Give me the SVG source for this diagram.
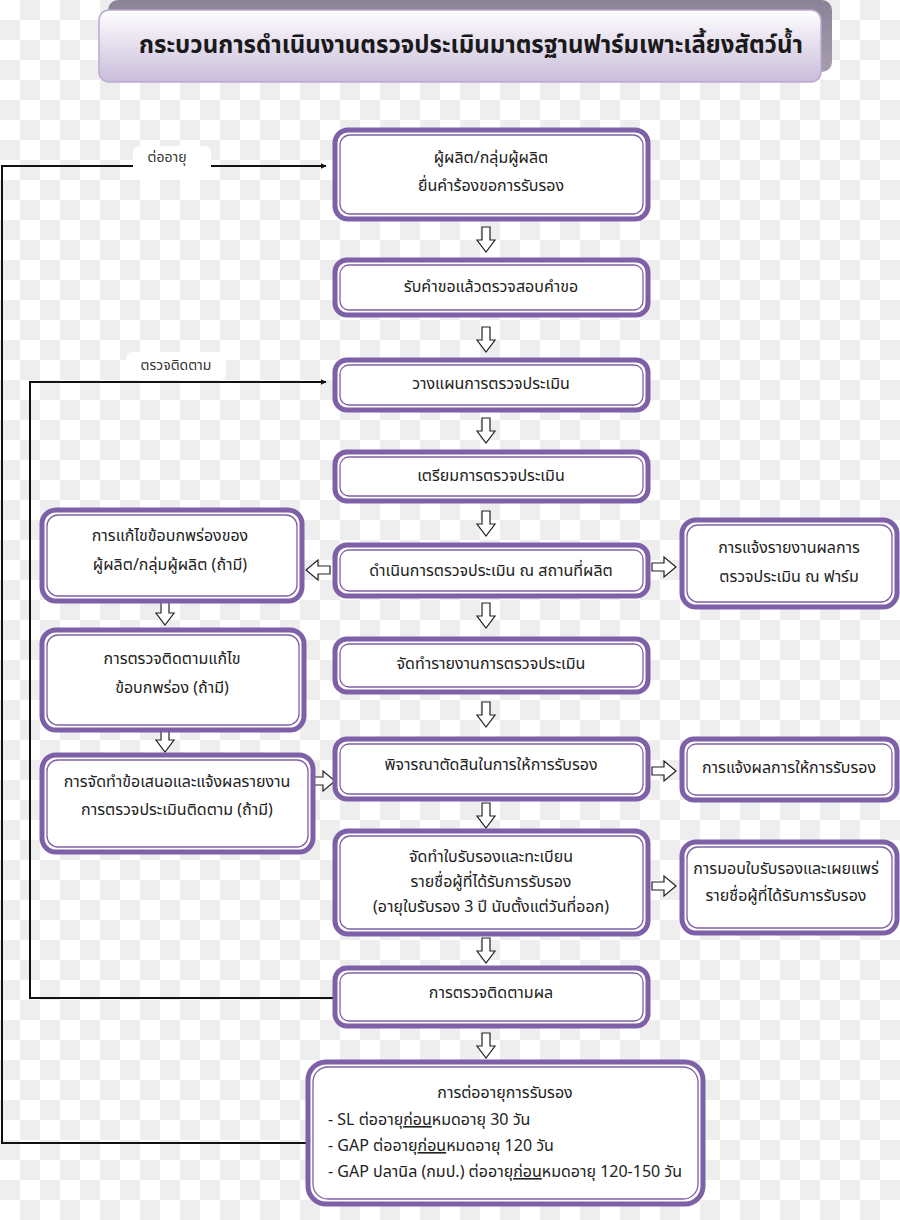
<svg xmlns="http://www.w3.org/2000/svg" width="900" height="1220" viewBox="0 0 900 1220">
<defs>
<pattern id="chk" width="40" height="40" patternUnits="userSpaceOnUse">
<rect width="40" height="40" fill="#ffffff"/>
<rect x="20" y="0" width="20" height="20" fill="#eeeeee"/>
<rect x="0" y="20" width="20" height="20" fill="#eeeeee"/>
</pattern>
<linearGradient id="tg" x1="0" y1="0" x2="0" y2="1">
<stop offset="0" stop-color="#ffffff"/>
<stop offset="1" stop-color="#c9bcda"/>
</linearGradient>
<linearGradient id="sg" x1="0" y1="0" x2="0" y2="1">
<stop offset="0" stop-color="#8a8296"/>
<stop offset="1" stop-color="#a59dae"/>
</linearGradient>
<marker id="ah" viewBox="0 0 10 10" refX="9" refY="5" markerWidth="6" markerHeight="6" orient="auto" markerUnits="userSpaceOnUse">
<path d="M0,0 L10,5 L0,10 z" fill="#111"/>
</marker>
<path id="dn" d="M-4,0 h8 v13 h5 l-9,12 l-9,-12 h5 z"/>
<path id="rt" d="M0,-4 h12 v-6 l12,10 l-12,10 v-6 h-12 z"/>
<path id="lt" d="M0,-4 h-12 v-6 l-12,10 l12,10 v-6 h12 z"/>
</defs>
<style>
.bo{fill:#ffffff;stroke:#7d60a8;stroke-width:5}
.bi{fill:none;stroke:#7d60a8;stroke-width:1.3}
.t{font-family:"Noto Sans Thai","Noto Sans","DejaVu Sans",sans-serif;font-size:16px;fill:#222;text-anchor:middle}
.tl{text-anchor:start}
.ha{fill:#ffffff;stroke:#222;stroke-width:1.2}
.cn{fill:none;stroke:#111;stroke-width:2}
.lb{font-family:"Noto Sans Thai","Noto Sans","DejaVu Sans",sans-serif;font-size:14px;fill:#333;text-anchor:middle}
</style>
<rect width="900" height="1220" fill="url(#chk)"/>

<g id="title">
<rect x="108" y="0" width="724" height="72" rx="10" fill="url(#sg)"/>
<rect x="99" y="10" width="722" height="72" rx="10" fill="url(#tg)" stroke="#b9a9d2" stroke-width="1.5"/>
<text x="471" y="53" style="font-family:'Noto Sans Thai','Noto Sans','DejaVu Sans',sans-serif;font-size:24px;fill:#1a1a1a;text-anchor:middle;font-weight:bold">กระบวนการดำเนินงานตรวจประเมินมาตรฐานฟาร์มเพาะเลี้ยงสัตว์น้ำ</text>
</g>

<g id="connectors">
<polyline class="cn" points="306,1143 2,1143 2,166 326,166" marker-end="url(#ah)"/>
<polyline class="cn" points="333,998 30,998 30,382 326,382" marker-end="url(#ah)"/>
<rect x="133" y="146" width="78" height="34" rx="6" fill="#ffffff"/>
<text class="lb" x="167" y="162">ต่ออายุ</text>
<rect x="126" y="352" width="100" height="28" rx="6" fill="#ffffff"/>
<text class="lb" x="176" y="370">ตรวจติดตาม</text>
<use href="#dn" x="486" y="227" class="ha"/>
<use href="#dn" x="486" y="327" class="ha"/>
<use href="#dn" x="486" y="418" class="ha"/>
<use href="#dn" x="486" y="511" class="ha"/>
<use href="#dn" x="486" y="603" class="ha"/>
<use href="#dn" x="486" y="702" class="ha"/>
<use href="#dn" x="486" y="803" class="ha"/>
<use href="#dn" x="486" y="938" class="ha"/>
<use href="#dn" x="486" y="1033" class="ha"/>
<use href="#dn" x="165" y="600" class="ha"/>
<use href="#dn" x="165" y="727" class="ha"/>
<use href="#lt" x="330" y="570" class="ha"/>
<use href="#rt" x="652" y="567" class="ha"/>
<use href="#rt" x="652" y="771" class="ha"/>
<use href="#rt" x="652" y="886" class="ha"/>
<use href="#rt" x="311" y="781" class="ha"/>
</g>

<g id="n1">
<rect class="bo" x="335" y="130" width="313" height="89" rx="13"/>
<rect class="bi" x="340" y="135" width="303" height="79" rx="10"/>
<text class="t" x="491" y="163">ผู้ผลิต/กลุ่มผู้ผลิต</text>
<text class="t" x="491" y="191">ยื่นคำร้องขอการรับรอง</text>
</g>
<g id="n2">
<rect class="bo" x="335" y="260" width="313" height="55" rx="12"/>
<rect class="bi" x="340" y="265" width="303" height="45" rx="9"/>
<text class="t" x="491" y="292">รับคำขอแล้วตรวจสอบคำขอ</text>
</g>
<g id="n3">
<rect class="bo" x="335" y="360" width="313" height="50" rx="12"/>
<rect class="bi" x="340" y="365" width="303" height="40" rx="9"/>
<text class="t" x="491" y="389">วางแผนการตรวจประเมิน</text>
</g>
<g id="n4">
<rect class="bo" x="335" y="452" width="313" height="49" rx="12"/>
<rect class="bi" x="340" y="457" width="303" height="39" rx="9"/>
<text class="t" x="491" y="481">เตรียมการตรวจประเมิน</text>
</g>
<g id="n5">
<rect class="bo" x="335" y="545" width="313" height="51" rx="12"/>
<rect class="bi" x="340" y="550" width="303" height="41" rx="9"/>
<text class="t" x="491" y="576">ดำเนินการตรวจประเมิน ณ สถานที่ผลิต</text>
</g>
<g id="n6">
<rect class="bo" x="335" y="639" width="313" height="53" rx="12"/>
<rect class="bi" x="340" y="644" width="303" height="43" rx="9"/>
<text class="t" x="491" y="669">จัดทำรายงานการตรวจประเมิน</text>
</g>
<g id="n7">
<rect class="bo" x="335" y="739" width="313" height="60" rx="12"/>
<rect class="bi" x="340" y="744" width="303" height="50" rx="9"/>
<text class="t" x="491" y="770">พิจารณาตัดสินในการให้การรับรอง</text>
</g>
<g id="n8">
<rect class="bo" x="335" y="831" width="313" height="103" rx="13"/>
<rect class="bi" x="340" y="836" width="303" height="93" rx="10"/>
<text class="t" x="491" y="862">จัดทำใบรับรองและทะเบียน</text>
<text class="t" x="491" y="887">รายชื่อผู้ที่ได้รับการรับรอง</text>
<text class="t" x="491" y="912">(อายุใบรับรอง 3 ปี นับตั้งแต่วันที่ออก)</text>
</g>
<g id="n9">
<rect class="bo" x="335" y="968" width="313" height="58" rx="12"/>
<rect class="bi" x="340" y="973" width="303" height="48" rx="9"/>
<text class="t" x="491" y="998">การตรวจติดตามผล</text>
</g>
<g id="n10">
<rect class="bo" x="308" y="1062" width="395" height="142" rx="18"/>
<rect class="bi" x="313" y="1067" width="385" height="132" rx="15"/>
<text class="t" x="505" y="1098">การต่ออายุการรับรอง</text>
<text class="t tl" x="328" y="1125">- SL ต่ออายุ<tspan text-decoration="underline">ก่อน</tspan>หมดอายุ 30 วัน</text>
<text class="t tl" x="328" y="1151">- GAP ต่ออายุ<tspan text-decoration="underline">ก่อน</tspan>หมดอายุ 120 วัน</text>
<text class="t tl" x="328" y="1177">- GAP ปลานิล (กมป.) ต่ออายุ<tspan text-decoration="underline">ก่อน</tspan>หมดอายุ 120-150 วัน</text>
</g>
<g id="l1">
<rect class="bo" x="42" y="510" width="260" height="91" rx="14"/>
<rect class="bi" x="47" y="515" width="250" height="81" rx="11"/>
<text class="t" x="170" y="541">การแก้ไขข้อบกพร่องของ</text>
<text class="t" x="170" y="570">ผู้ผลิต/กลุ่มผู้ผลิต (ถ้ามี)</text>
</g>
<g id="l2">
<rect class="bo" x="42" y="630" width="262" height="100" rx="14"/>
<rect class="bi" x="47" y="635" width="252" height="90" rx="11"/>
<text class="t" x="172" y="664">การตรวจติดตามแก้ไข</text>
<text class="t" x="172" y="693">ข้อบกพร่อง (ถ้ามี)</text>
</g>
<g id="l3">
<rect class="bo" x="42" y="755" width="271" height="97" rx="14"/>
<rect class="bi" x="47" y="760" width="261" height="87" rx="11"/>
<text class="t" x="177" y="787">การจัดทำข้อเสนอและแจ้งผลรายงาน</text>
<text class="t" x="177" y="815">การตรวจประเมินติดตาม (ถ้ามี)</text>
</g>
<g id="r1">
<rect class="bo" x="682" y="520" width="215" height="87" rx="14"/>
<rect class="bi" x="687" y="525" width="205" height="77" rx="11"/>
<text class="t" x="789" y="553">การแจ้งรายงานผลการ</text>
<text class="t" x="789" y="582">ตรวจประเมิน ณ ฟาร์ม</text>
</g>
<g id="r2">
<rect class="bo" x="682" y="739" width="215" height="61" rx="12"/>
<rect class="bi" x="687" y="744" width="205" height="51" rx="9"/>
<text class="t" x="789" y="773">การแจ้งผลการให้การรับรอง</text>
</g>
<g id="r3">
<rect class="bo" x="682" y="842" width="215" height="91" rx="14"/>
<rect class="bi" x="687" y="847" width="205" height="81" rx="11"/>
<text class="t" x="786" y="874">การมอบใบรับรองและเผยแพร่</text>
<text class="t" x="786" y="901">รายชื่อผู้ที่ได้รับการรับรอง</text>
</g>
</svg>
